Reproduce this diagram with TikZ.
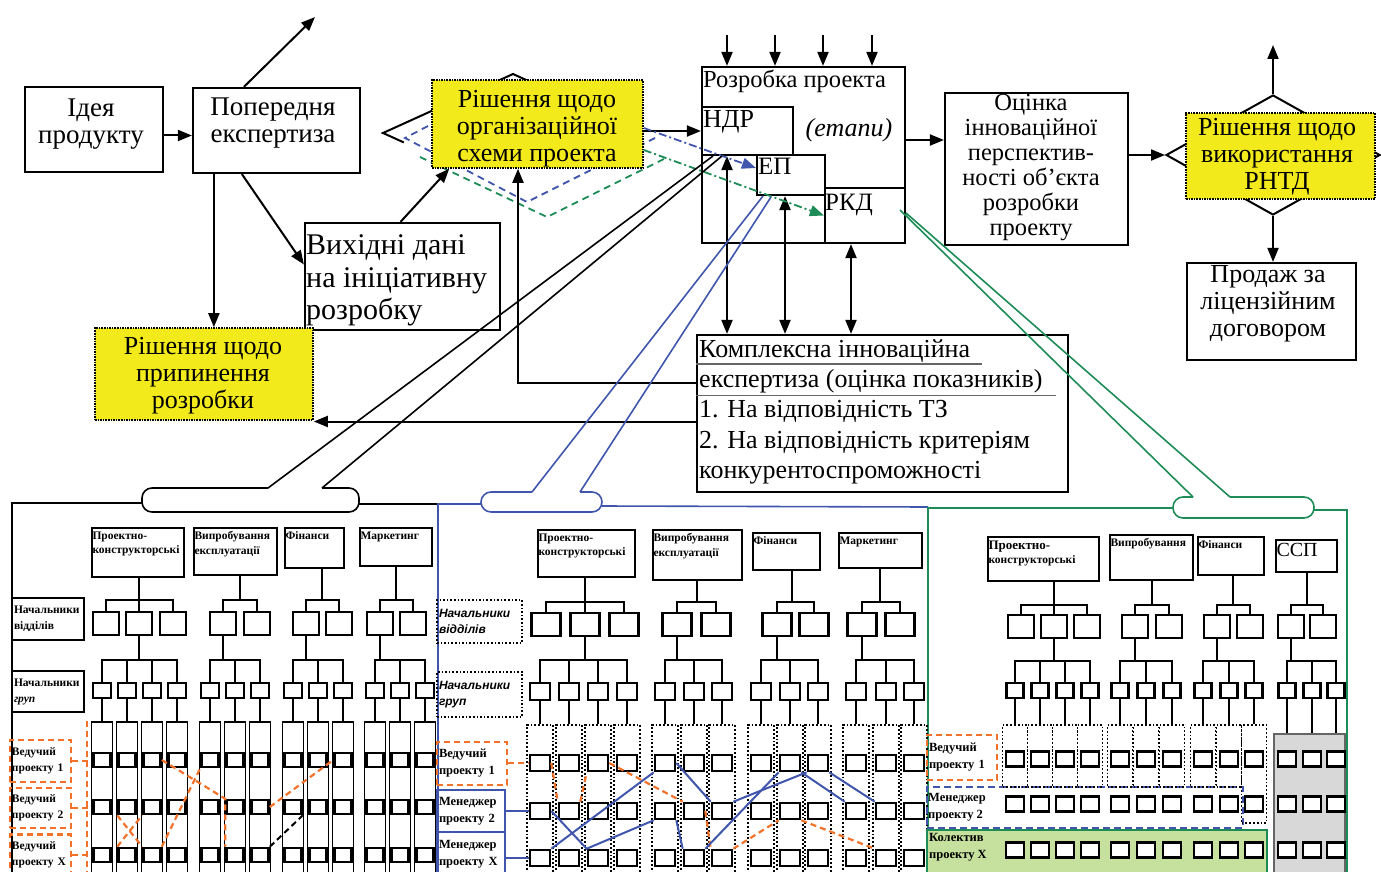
\documentclass[tikz,border=0pt]{standalone}
\usepackage{fontspec}
\setmainfont{Liberation Serif}
\newfontfamily\labsans{Liberation Sans}
\usetikzlibrary{arrows.meta,shapes.geometric,calc}

\definecolor{decyellow}{RGB}{243,234,28}
\definecolor{projblue}{RGB}{64,86,172}
\definecolor{projgreen}{RGB}{30,140,86}
\definecolor{leadorange}{RGB}{242,114,42}
\definecolor{teamgreen}{RGB}{198,224,158}
\definecolor{sspgray}{RGB}{216,216,216}

\tikzset{
  box/.style={draw, line width=2.2pt, inner sep=0pt},
  decbox/.style={draw, densely dotted, line width=1.6pt, fill=decyellow, inner sep=0pt},
  bigtxt/.style={inner sep=0pt, align=center, font=\fontsize{26}{27}\selectfont},
  arr/.style={line width=2pt, -{Triangle[length=14pt,width=11pt]}},
  dblarr/.style={line width=2pt, {Triangle[length=14pt,width=11pt]}-{Triangle[length=14pt,width=11pt]}},
  treeline/.style={line width=2pt},
  deptbox/.style={draw, line width=2.4pt, inner sep=0pt},
  deptlab/.style={anchor=north west, inner xsep=1.5pt, inner ysep=4.5pt, align=left, font=\bfseries\fontsize{11.5}{14.5}\selectfont},
  secbox/.style={draw, line width=2.4pt, minimum width=26pt, minimum height=23pt, inner sep=0pt},
  grpbox/.style={draw, line width=2.4pt, minimum width=18pt, minimum height=15pt, inner sep=0pt},
  sqbox/.style={draw, fill=white, line width=2.6pt, minimum width=17pt, minimum height=14pt, inner sep=0pt},
  colsolid/.style={draw, line width=1.6pt, minimum width=21pt, minimum height=154pt, inner sep=0pt},
  coldots/.style={draw, dotted, line width=1.8pt, minimum width=25pt, inner sep=0pt},
  rolebox/.style={draw, line width=1.6pt, inner sep=2pt, align=left, font=\bfseries\fontsize{11.5}{16}\selectfont},
  leaddash/.style={draw=leadorange, dash pattern=on 6pt off 4pt, line width=2.2pt},
  mgrline/.style={draw=projblue, line width=2pt},
  balloon/.style={line width=1.6pt, rounded corners=10pt, fill=white},
}

\begin{document}
\begin{tikzpicture}[x=1pt, y=-1pt]
\useasboundingbox (0,0) rectangle (1381,872);

% upper part: way of the product
\node[box, minimum width=138pt, minimum height=85pt] (idea) at (94,129.5) {};
\node[bigtxt, font=\fontsize{27}{27}\selectfont] (idea-t) at (91,124) {Ідея\\продукту};
\node[box, minimum width=167pt, minimum height=85pt] (prelim) at (276.5,130.5) {};
\node[bigtxt, font=\fontsize{27}{27}\selectfont] (prelim-t) at (273,123) {Попередня\\експертиза};
\node[box, minimum width=195pt, minimum height=107pt] (srcdata) at (402.5,276.5) {};
\node[inner sep=0pt, align=left, anchor=west, font=\fontsize{30}{32.5}\selectfont] (srcdata-t) at (306,280.5) {Вихідні дані\\на ініціативну\\розробку};

\coordinate (orgd-w) at (383,133);
\coordinate (orgd-n) at (513,74);
\coordinate (orgd-e) at (643,133);
\coordinate (orgd-s) at (513,192);
\draw[line width=2pt] (orgd-e) -- (orgd-n) -- (orgd-w) -- ($(orgd-w)!0.16!(orgd-s)$);
\draw[projblue, line width=1.8pt, dash pattern=on 7pt off 5pt] (428,126) -- (405,138) -- (527,202) -- (655,138);
\draw[projgreen, line width=1.8pt, dash pattern=on 7pt off 5pt] (420,157) -- (547,217) -- (668,157);
\node[decbox, minimum width=211pt, minimum height=88pt] (orgdec) at (537.5,124) {};
\node[bigtxt] (orgdec-t) at (537,128.5) {Рішення щодо\\організаційної\\схеми проекта};

\node[decbox, minimum width=218pt, minimum height=92pt] (stop) at (204,374) {};
\node[bigtxt] (stop-t) at (203,376) {Рішення щодо\\припинення\\розробки};

\node[box, minimum width=203pt, minimum height=176pt] (dev) at (803.5,155) {};
\node[inner sep=0pt, anchor=base west, font=\fontsize{24.5}{24}\selectfont] (dev-t) at (703,88) {Розробка проекта};
\node[box, minimum width=91pt, minimum height=48pt] (ndr) at (747.5,131) {};
\node[box, minimum width=68pt, minimum height=40pt] (ep) at (791,175) {};
\node[box, minimum width=80pt, minimum height=55pt] (rkd) at (865,215.5) {};
\node[inner sep=0pt, anchor=base west, font=\fontsize{26}{26}\selectfont] (ndr-t) at (703,128) {НДР};
\node[inner sep=0pt, anchor=base west, font=\fontsize{25}{25}\selectfont] (ep-t) at (758,175) {ЕП};
\node[inner sep=0pt, anchor=base west, font=\fontsize{25}{25}\selectfont] (rkd-t) at (825,210) {РКД};
\node[inner sep=0pt, anchor=base, font=\itshape\fontsize{26}{26}\selectfont] (stages) at (849,137) {(етапи)};

\foreach \x [count=\i] in {727,775,823,872} {
  \coordinate (in\i) at (\x,35);
  \draw[arr] (in\i) -- (in\i |- dev.north);
}

\node[box, minimum width=371pt, minimum height=157pt] (cx) at (882.5,413.5) {};
\node[inner sep=0pt, anchor=north west, align=left, font=\fontsize{26}{30.4}\selectfont] (cx-t) at (699,339) {Комплексна інноваційна\\експертиза (оцінка показників)\\1. На відповідність ТЗ\\2. На відповідність критеріям\\конкурентоспроможності};
\draw[line width=1.3pt, black!60] ([yshift=-30pt]cx.north west) -- ++(286,0);
\draw[line width=1.3pt, black!60] ([yshift=-61.5pt]cx.north west) -- ++(360,0);

\coordinate (dn1) at ([xshift=-20.5pt]ndr.south);
\coordinate (dn2) at ([xshift=-6pt]ep.south);
\coordinate (dn3) at ([xshift=-14pt]rkd.south);
\foreach \i in {1,2,3}
  \draw[dblarr] (dn\i) -- (dn\i |- cx.north);

\node[box, minimum width=183pt, minimum height=152pt] (est) at (1036.5,169) {};
\node[bigtxt, font=\fontsize{24.5}{25}\selectfont] (est-t) at (1031,168) {Оцінка\\інноваційної\\перспектив-\\ності об’єкта\\розробки\\проекту};

\node[draw, diamond, line width=2pt, minimum width=214pt, minimum height=120pt, inner sep=0pt] (rntdd) at (1273,155) {};
\node[decbox, minimum width=189pt, minimum height=86pt] (rntd) at (1280.5,156) {};
\node[bigtxt] (rntd-t) at (1277,156.5) {Рішення щодо\\використання\\РНТД};
\node[box, minimum width=169pt, minimum height=97pt] (sale) at (1271.5,311.5) {};
\node[bigtxt] (sale-t) at (1268,303.5) {Продаж за\\ліцензійним\\договором};

% connections of the upper part
\coordinate (idea-o) at ([yshift=-6pt]idea.east);
\draw[arr] (idea-o) -- (idea-o -| prelim.west);
\coordinate (pre-up) at (315,17);
\draw[arr] ([xshift=52pt]prelim.north west) -- (pre-up);
\draw[arr] ([xshift=50pt]prelim.south west) -- ([yshift=12pt]srcdata.west);
\coordinate (pre-dn) at ([xshift=22pt]prelim.south west);
\draw[arr] (pre-dn) -- (pre-dn |- stop.north);
\draw[arr] ([xshift=-2pt]srcdata.north) -- ([xshift=18pt]orgdec.south west);
\draw[arr] (orgdec.east |- ndr.west) -- (ndr.west);
\draw[projblue, line width=1.8pt, dash pattern=on 8pt off 3pt on 2pt off 3pt, -{Triangle[length=14pt,width=11pt]}] ([yshift=-4pt]orgdec.east) -- ([yshift=7pt]ep.west);
\draw[projgreen, line width=1.8pt, dash pattern=on 8pt off 3pt on 2pt off 3pt, -{Triangle[length=14pt,width=11pt]}] ([yshift=-26pt]orgdec.east) -- (rkd.west);
\coordinate (cx-a) at ([yshift=30.5pt]cx.west);
\draw[arr] (cx-a) -| ([xshift=-19.5pt]orgdec.south);
\coordinate (cx-b) at ([yshift=-8pt]cx.west);
\draw[arr] (cx-b) -- (cx-b -| stop.east);
\coordinate (dev-o) at ([yshift=15pt]dev.east);
\draw[arr] (dev-o) -- (dev-o -| est.west);
\draw[arr] (rntdd.west -| est.east) -- (rntdd.west);
\coordinate (rntd-up) at (1273,45);
\draw[arr] (rntdd.north) -- (rntd-up);
\draw[arr] (rntdd.south) -- (rntdd.south |- sale.north);

% panel frames and callouts
\draw[line width=1.6pt] (12,876) -- (12,503) -- (142,503) (359,504) -- (437,504);
\draw[projblue, line width=1.6pt] (438,876) -- (438,504) -- (481,504) (602,506) -- (928,507);
\draw[projgreen, line width=1.6pt] (928,876) -- (928,508) -- (1173,508) (1314,510) -- (1347,510) -- (1347,876);

\coordinate (blk-l) at (268,488);
\coordinate (blk-r) at (322,488);
\draw[balloon] (blk-l) -- (142,488) -- (142,512) -- (359,512) -- (359,488) -- (blk-r);
\draw[line width=1.6pt] (blk-l) -- (713,156) (blk-r) -- (722,156);
\coordinate (blu-l) at (532,492);
\coordinate (blu-r) at (580,492);
\draw[balloon, draw=projblue] (blu-l) -- (481,492) -- (481,512) -- (602,512) -- (602,492) -- (blu-r);
\draw[projblue, line width=1.6pt] (blu-l) -- (763,196) (blu-r) -- (771,197);
\coordinate (grn-l) at (1193,497);
\coordinate (grn-r) at (1230,497);
\draw[balloon, draw=projgreen] (grn-l) -- (1173,497) -- (1173,518) -- (1314,518) -- (1314,497) -- (grn-r);
\draw[projgreen, line width=1.6pt] (grn-l) -- (900,210) (grn-r) -- (906,213);

% panel A
\foreach \dn/\px/\py/\w/\h/\lab in {A-pk/138/552.5/92/49/{Проектно-\\конструкторські},
    A-vy/235.5/551.5/83/47/{Випробування\\експлуатації},
    A-fi/314.5/548/59/40/{Фінанси}, A-mk/396/547/72/38/{Маркетинг}} {
  \node[deptbox, minimum width=\w pt, minimum height=\h pt] (\dn) at (\px,\py) {};
  \node[deptlab] (\dn-t) at (\dn.north west) {\lab};
}
\foreach \dn/\tx/\secs/\ttx/\grps in {A-pk/139/{106,139,173}/139/{102,127,152,177},
    A-vy/240/{223,257}/223/{210,235,260}, A-fi/322/{306,339}/306/{293,318,343},
    A-mk/396/{380,413}/380/{375,400,425}} {
  \coordinate (\dn-b1) at (\tx,600);
  \coordinate (\dn-b2) at (\ttx,660);
  \draw[treeline] (\dn.south -| \dn-b1) -- (\dn-b1);
  \foreach \s in \secs {
    \node[secbox] (\dn-s\s) at (\s,623.5) {};
    \draw[treeline] (\dn-b1) -| (\dn-s\s.north);
  }
  \draw[treeline] (\dn-s\ttx.south) -- (\dn-b2);
  \foreach \g in \grps {
    \node[grpbox] (A-\g) at (\g,690.5) {};
    \draw[treeline] (\dn-b2) -| (A-\g.north);
  }
}
\foreach \g in {102,127,152,177,210,235,260,293,318,343,375,400,425} {
  \node[colsolid] (A-\g-col) at (\g,799) {};
  \draw[treeline] (A-\g.south) -- (A-\g-col.north);
  \foreach \r/\ry in {1/760,2/807,3/855}
    \node[sqbox] (A-\g-\r) at (\g,\ry) {};
}
\node[rolebox, text width=68pt, minimum height=42pt] (A-hod) at (48,619) {Начальники\\відділів};
\node[rolebox, text width=68pt, minimum height=41pt] (A-hog) at (48,691.5) {Начальники\\\textit{груп}};
\coordinate (A-lv1) at (87,721);
\coordinate (A-lv2) at (87,876);
\draw[leaddash] (A-lv1) -- (A-lv2);
\foreach \n/\py/\h/\lab in {ld1/761/42/1, ld2/808/40/2, ldx/855/41/X} {
  \node[rolebox, leaddash, text width=57pt, minimum height=\h pt] (A-\n) at (40.5,\py) {Ведучий\\проекту \lab};
  \draw[leaddash] (A-\n.east) -- (A-\n.east -| A-102-col.west);
}
\draw[leaddash] (A-152-1.east) -- (A-235-2.north west) -- (A-235-3.north west);
\draw[leaddash] (A-127-2.south west) -- (A-152-3.north west);
\draw[leaddash] (A-127-3.north west) -- (A-152-2.south west);
\draw[leaddash] (A-152-3.north east) -- (A-210-1.south west);
\draw[leaddash] (A-260-2.east) -- (A-343-1.west);
\draw[line width=2pt, dash pattern=on 6pt off 4pt] (A-260-3.north east) -- (A-293-2.south east);

% panel B
\foreach \dn/\px/\py/\w/\h/\lab in {B-pk/586.5/553.5/97/47/{Проектно-\\конструкторські},
    B-vy/697.5/555/89/50/{Випробування\\експлуатації},
    B-fi/786.5/551.5/67/37/{Фінанси}, B-mk/880.5/550.5/83/35/{Маркетинг}} {
  \node[deptbox, minimum width=\w pt, minimum height=\h pt] (\dn) at (\px,\py) {};
  \node[deptlab] (\dn-t) at (\dn.north west) {\lab};
}
\foreach \dn/\tx/\secs/\ttx/\grps in {B-pk/585/{546,585,624}/585/{540,569,598,627},
    B-vy/697/{677,716}/677/{665,694,722}, B-fi/792/{777,814}/777/{761,790,818},
    B-mk/880/{862,900}/862/{856,886,914}} {
  \coordinate (\dn-b1) at (\tx,602);
  \coordinate (\dn-b2) at (\ttx,660);
  \draw[treeline] (\dn.south -| \dn-b1) -- (\dn-b1);
  \foreach \s in \secs {
    \node[secbox, minimum width=29pt] (\dn-s\s) at (\s,624.5) {};
    \draw[treeline] (\dn-b1) -| (\dn-s\s.north);
  }
  \draw[treeline] (\dn-s\ttx.south) -- (\dn-b2);
  \foreach \g in \grps {
    \node[grpbox, minimum width=20pt, minimum height=17pt] (B-\g) at (\g,691.5) {};
    \draw[treeline] (\dn-b2) -| (B-\g.north);
  }
}
\foreach \g in {540,569,598,627,665,694,722,761,790,818,856,886,914} {
  \node[coldots, minimum width=26pt, minimum height=151pt] (B-\g-col) at (\g,800.5) {};
  \draw[treeline] (B-\g.south) -- (B-\g-col.north);
  \foreach \r/\ry in {1/763,2/811,3/858}
    \node[sqbox, minimum width=20pt, minimum height=16pt] (B-\g-\r) at (\g,\ry) {};
}
\node[rolebox, dotted, line width=2pt, text width=81pt, minimum height=43pt, font=\labsans\bfseries\itshape\fontsize{12}{16}\selectfont] (B-hod) at (479.5,621.5) {Начальники\\відділів};
\node[rolebox, dotted, line width=2pt, text width=81pt, minimum height=45pt, font=\labsans\bfseries\itshape\fontsize{12}{16}\selectfont] (B-hog) at (479.5,694.5) {Начальники\\груп};
\node[rolebox, leaddash, text width=66pt, minimum height=43pt, font=\bfseries\fontsize{12.5}{17}\selectfont] (B-ld1) at (472,763.5) {Ведучий\\проекту 1};
\node[rolebox, mgrline, text width=64pt, minimum height=42pt, font=\bfseries\fontsize{12.5}{17}\selectfont] (B-mg2) at (471,811) {Менеджер\\проекту 2};
\node[rolebox, mgrline, text width=64pt, minimum height=44pt, font=\bfseries\fontsize{12.5}{17}\selectfont] (B-mgx) at (471,854) {Менеджер\\проекту X};
\draw[leaddash] (B-ld1.east |- B-540-1.west) -- (B-540-1.west);
\draw[mgrline] (B-mg2.east |- B-540-2.west) -- (B-540-2.west);
\draw[mgrline] (B-mgx.east |- B-540-3.west) -- (B-540-3.west);
\draw[leaddash] (B-540-1.east) -- (B-569-2.north west) (B-569-2.north east) -- (B-598-1.south west)
  (B-598-1.east) -- (B-694-2.north west) (B-694-2.east) -- (B-722-3.north west)
  (B-722-3.north east) -- (B-790-2.south west) (B-790-2.south east) -- (B-886-3.north west);
\draw[mgrline] (B-540-2.east) -- (B-598-3.north west) -- (B-665-2.south west)
  (B-665-2.south east) -- (B-694-3.north west) (B-694-3.north east) -- (B-790-1.south west)
  (B-790-1.south east) -- (B-856-2.north west);
\draw[mgrline] (B-540-3.north east) -- (B-665-1.south west)
  (B-665-1.east) -- (B-722-2.north west) (B-722-2.north east) -- (B-818-1.south west)
  (B-818-1.south east) -- (B-886-2.north west);

% panel C
\node[draw=projblue, dash pattern=on 7pt off 4pt, line width=2pt, minimum width=316pt, minimum height=41pt, inner sep=0pt] (C-mg2) at (1085,807.5) {};
\node[draw=projgreen, fill=teamgreen, line width=1.6pt, minimum width=340pt, minimum height=46pt, inner sep=0pt] (C-team) at (1097,853) {};
\node[draw=black!60, fill=sspgray, line width=1.6pt, minimum width=71pt, minimum height=142pt, inner sep=0pt] (C-sspbg) at (1309.5,805) {};
\node[anchor=west, inner sep=2pt, align=left, font=\bfseries\fontsize{12.5}{17}\selectfont] (C-mg2-t) at (C-mg2.west) {Менеджер\\проекту 2};
\node[anchor=west, inner sep=2pt, align=left, font=\bfseries\fontsize{12.5}{17}\selectfont] (C-team-t) at (927,847) {Колектив\\проекту X};
\node[rolebox, leaddash, text width=66pt, minimum height=45pt, font=\bfseries\fontsize{12.5}{17}\selectfont] (C-ld1) at (962,757.5) {Ведучий\\проекту 1};
\foreach \dn/\px/\py/\w/\h/\lab in {C-pk/1043.5/559/111/44/{\fontsize{13}{16}\selectfont Проектно-\\конструкторські},
    C-vy/1151.5/557.5/83/45/{Випробування},
    C-fi/1231/556/66/38/{Фінанси}, C-ssp/1306.5/556/61/32/{\mdseries\fontsize{20}{20}\selectfont ССП}} {
  \node[deptbox, minimum width=\w pt, minimum height=\h pt] (\dn) at (\px,\py) {};
  \node[deptlab] (\dn-t) at (\dn.north west) {\lab};
}
\foreach \dn/\tx/\secs/\ttx/\grps in {C-pk/1054/{1021,1054,1087}/1054/{1015,1040,1065,1090},
    C-vy/1152/{1135,1169}/1135/{1120,1146,1172}, C-fi/1233/{1217,1250}/1217/{1203,1229,1254},
    C-ssp/1307/{1291,1323}/1291/{1287,1312,1336}} {
  \coordinate (\dn-b1) at (\tx,605);
  \coordinate (\dn-b2) at (\ttx,661);
  \draw[treeline] (\dn.south -| \dn-b1) -- (\dn-b1);
  \foreach \s in \secs {
    \node[secbox] (\dn-s\s) at (\s,626.5) {};
    \draw[treeline] (\dn-b1) -| (\dn-s\s.north);
  }
  \draw[treeline] (\dn-s\ttx.south) -- (\dn-b2);
  \foreach \g in \grps {
    \node[grpbox, minimum width=17pt] (C-\g) at (\g,690.5) {};
    \draw[treeline] (\dn-b2) -| (C-\g.north);
  }
}
\foreach \g/\cy/\ch in {1015/756/62,1040/756/62,1065/756/62,1090/756/62,1120/756/62,1146/756/62,
    1172/756/62,1203/756/62,1229/756/62,1254/774/98} {
  \node[coldots, minimum height=\ch pt] (C-\g-col) at (\g,\cy) {};
  \draw[treeline] (C-\g.south) -- (C-\g-col.north);
}
\foreach \g in {1287,1312,1336}
  \draw[treeline] (C-\g.south) -- (C-\g.south |- C-sspbg.north);
\foreach \g in {1015,1040,1065,1090,1120,1146,1172,1203,1229,1254,1287,1312,1336}
  \foreach \r/\ry in {1/759,2/804,3/850}
    \node[sqbox, minimum width=18pt, minimum height=15pt] (C-\g-\r) at (\g,\ry) {};
\end{tikzpicture}
\end{document}
